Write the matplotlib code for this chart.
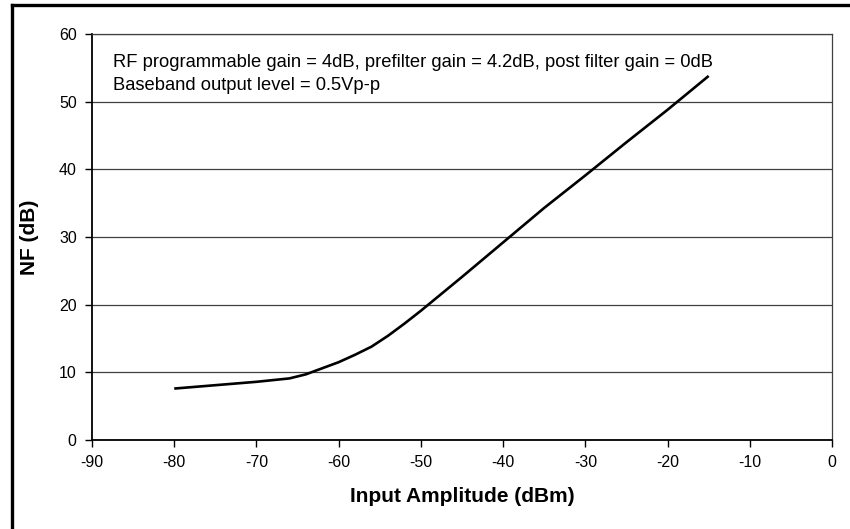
import matplotlib
matplotlib.use("Agg")
import matplotlib.pyplot as plt
from matplotlib.lines import Line2D

# input amplitude (dBm) vs noise figure (dB)
inputAmp = [-80, -75, -70, -66, -64, -62, -60, -58, -56, -54, -52, -50,
            -45, -40, -35, -30, -25, -20, -15]
noiseFig = [7.6, 8.1, 8.6, 9.1, 9.7, 10.6, 11.5, 12.6, 13.8, 15.4, 17.2, 19.1,
            24.1, 29.2, 34.3, 39.1, 44.0, 48.8, 53.8]

xTicks = list(range(-90, 1, 10))
yTicks = list(range(0, 61, 10))
noteLines = ["RF programmable gain = 4dB, prefilter gain = 4.2dB, post filter gain = 0dB",
             "Baseband output level = 0.5Vp-p"]

plt.rcParams['font.family'] = ['Liberation Sans', 'DejaVu Sans']

fig = plt.figure(figsize=(8.5, 5.29), dpi=100)
ax = fig.add_axes([92/850, 89/529, 740/850, 406/529])

ax.plot(inputAmp, noiseFig, color='black', linewidth=1.9, solid_capstyle='butt')

ax.set_xlim(-90, 0)
ax.set_ylim(0, 60)
ax.set_xticks(xTicks)
ax.set_yticks(yTicks)
ax.set_xticklabels([str(t) for t in xTicks])
ax.set_yticklabels([str(t) for t in yTicks])
ax.tick_params(direction='out', length=5, width=1, color='black', labelsize=11.5, pad=6)
ax.yaxis.grid(True, color='#404040', linewidth=0.9)
ax.set_axisbelow(True)

for side in ['left', 'bottom']:
    ax.spines[side].set_color('black')
    ax.spines[side].set_linewidth(1.3)
for side in ['top', 'right']:
    ax.spines[side].set_color('#404040')
    ax.spines[side].set_linewidth(0.9)

ax.set_xlabel("Input Amplitude (dBm)", fontsize=15, fontweight='bold', labelpad=12)
ax.set_ylabel("NF (dB)", fontsize=15, fontweight='bold', labelpad=14)

# note lines, placed by baseline
for i, line in enumerate(noteLines):
    ax.text(0.0284, 0.9187 - i * 0.0567, line, transform=ax.transAxes, fontsize=13.25,
            va='baseline', ha='left')

# outer frame, only left and top edges fall inside the picture
fig.add_artist(Line2D([12/850, 12/850], [0, 1 - 5/529], transform=fig.transFigure,
                      color='black', linewidth=2.4))
fig.add_artist(Line2D([12/850, 1], [1 - 5/529, 1 - 5/529], transform=fig.transFigure,
                      color='black', linewidth=2.4))

fig.savefig("out.png", dpi=100)
